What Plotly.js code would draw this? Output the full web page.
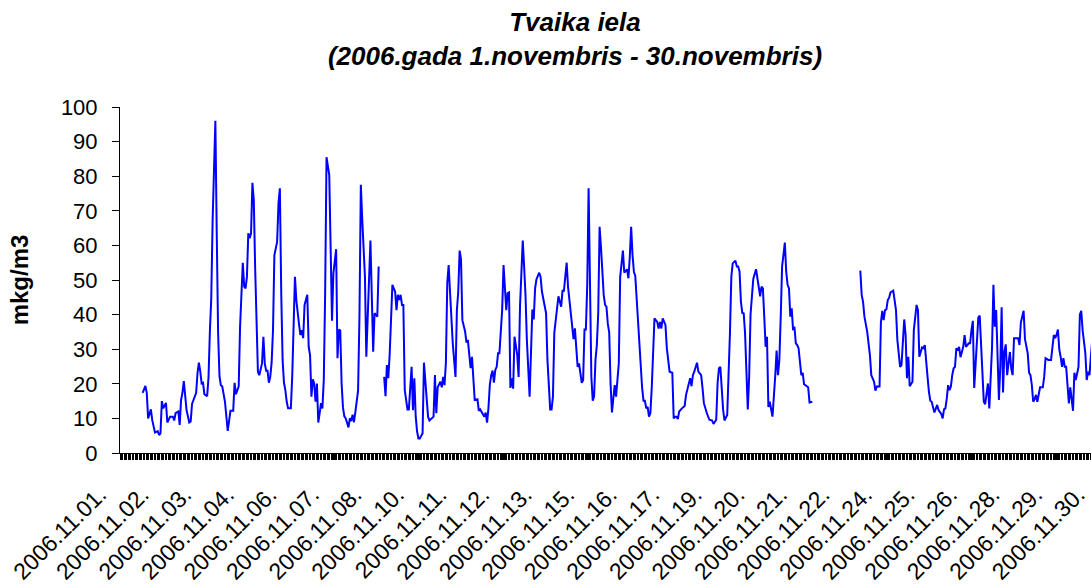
<!DOCTYPE html>
<html>
<head>
<meta charset="utf-8">
<script src="https://cdn.plot.ly/plotly-3.0.1.min.js"></script>
<style>
html,body{margin:0;padding:0;background:#fff;overflow:hidden;}
#chart{width:1108px;height:585px;}
</style>
</head>
<body>
<div id="chart"></div>
<script>
// Hour index (0 = 2006.11.01 00:00) of each drawn vertex, and concentration (mkg/m3); null = missing data
const hours = [
16,18,19,20,22,23,25,27,28,29,30,31,33,34,36,38,39,40,42,43,44,45,46,48,50,51,52,54,55,56,57,58,59,60,61,63,64,65,66,67,69,70,71,72,73,74,75,76,78,80,82,83,84,86,87,89,90,91,92,93,94,95,96,97,98,99,100,101,103,104,105,106,107,108,109,110,111,112,113,114,115,116,117,118,119,120,121,122,124,125,127,128,130,131,132,133,134,136,137,138,139,140,141,142,143,144,145,146,147,148,149,150,152,153,154,155,157,158,159,160,161,162,163,164,166,167,168,169,170,171,173,174,175,176,177,178,179,181,182,184,185,187,188,
190,
192,193,194,195,196,197,198,200,201,202,203,204,205,206,207,209,210,212,213,214,215,216,217,218,220,221,223,224,225,227,228,229,230,231,233,234,235,236,237,238,239,240,241,242,244,245,246,247,248,249,251,252,253,254,255,256,257,258,260,261,262,264,265,266,267,268,269,270,271,272,273,274,275,276,277,278,279,281,282,283,284,285,286,287,289,290,291,293,294,295,296,297,298,300,301,302,303,305,306,307,308,310,311,313,314,315,316,318,319,321,322,323,324,325,326,328,330,331,332,333,334,335,336,337,338,339,340,341,342,343,344,345,346,347,348,349,350,351,352,353,354,355,356,357,358,360,361,363,364,366,367,369,370,371,372,373,374,375,376,378,379,380,381,382,383,384,385,386,387,388,389,391,392,393,394,395,397,398,399,400,402,403,404,405,406,407,409,411,412,414,415,416,417,418,420,421,423,424,425,427,429,431,432,434,435,436,437,439,440,442,443,444,445,446,448,449,450,451,452,453,454,455,457,458,459,460,461,463,464,465,466,467,468,469,470,471,472,473,475,477,478,479,480,481,482,484,485,486,487,488,489,490,491,492,493,494,496,497,498,500,501,502,504,
521,
539,540,541,542,544,545,546,547,548,549,550,551,553,554,555,556,557,558,559,560,561,563,565,566,568,569,571,572,573,574,575,577,578,580,581,582,584,585,586,587,588,589,590,591,593,595,596,598,599,600,601,602,603,604,605,606,607,608,609,610,611,612,614,615,616,618,619,620,621,622,624,625,626,628,629,630,632,633,635,636,637,638,640,641,642,643,644,645,646,648,649,650,651,654,655,656,658,659,660,661,662,663,664,665,666,667,668,670,672,673,674,676,678,679,680,681,682,683,684,685,686,687,688,689,690,691,692,694,695,696,698,699,700,701,703,704,705,706,707,708
];
const values = [
17.4,19.4,17.4,10.0,12.6,9.5,5.9,6.3,5.2,5.7,15.0,12.9,14.5,8.8,10.5,10.5,9.4,11.5,12.0,8.1,15.3,17.4,20.8,12.4,8.8,9.1,14.2,16.8,17.4,23.2,26.1,23.5,20.1,20.3,17.0,16.4,21.8,35.1,44.7,67.3,96.0,63.5,34.6,22.1,19.6,19.3,16.4,14.8,6.4,12.2,12.2,20.3,17.0,19.3,36.5,55.0,48.1,47.6,50.9,63.5,62.1,63.5,78.1,73.1,53.4,36.5,23.5,22.5,25.9,33.6,25.9,23.8,23.8,20.3,22.0,26.1,35.5,57.2,58.7,61.0,72.2,76.5,46.2,26.9,20.3,18.2,14.8,12.9,12.9,22.0,50.9,44.2,37.0,34.1,35.5,33.2,42.8,45.7,30.7,28.3,16.3,21.3,20.1,14.8,20.1,8.8,11.5,14.4,12.9,21.1,46.2,85.5,80.3,57.7,38.2,51.9,58.9,27.4,35.7,35.4,20.1,13.1,10.6,10.0,7.4,10.1,9.2,11.1,8.9,11.8,18.0,39.4,77.5,67.8,58.7,50.9,27.8,48.1,61.4,29.3,40.4,39.4,53.9,
null,
22.0,16.4,25.4,21.6,28.3,41.3,48.6,46.6,41.3,45.7,44.2,45.7,42.8,42.8,18.2,12.6,12.6,24.9,12.4,21.6,10.5,6.2,4.2,4.2,5.7,26.1,13.9,10.5,9.4,10.0,10.5,22.5,11.5,19.0,20.6,19.0,22.0,19.6,26.1,49.2,54.3,46.6,37.5,31.7,22.0,41.3,46.6,58.5,56.0,38.4,35.1,31.9,32.7,27.4,24.5,27.8,22.0,15.3,15.5,12.2,12.6,11.0,10.5,11.7,8.8,12.9,19.6,22.5,23.8,20.3,24.0,24.9,28.8,28.8,34.1,41.3,54.3,41.3,46.2,46.4,18.8,21.6,18.6,33.6,28.3,22.0,42.3,61.4,53.9,45.7,32.7,24.9,16.3,41.5,38.6,47.6,50.2,52.1,50.9,46.6,44.2,40.4,26.9,12.6,12.6,16.3,34.7,42.6,45.3,42.3,46.9,46.9,51.4,55.0,48.1,39.4,32.9,36.0,28.8,24.9,25.9,23.0,20.3,21.1,35.7,35.7,48.6,76.5,46.2,22.0,15.1,16.4,26.9,31.2,40.4,65.4,59.6,51.4,45.7,42.8,42.3,37.3,34.9,20.1,11.7,19.6,16.3,25.9,50.9,58.5,52.1,53.1,50.5,56.6,65.4,57.2,52.4,51.2,44.2,30.7,24.3,18.8,15.1,15.1,12.9,13.3,10.5,11.5,18.8,28.8,38.9,37.9,36.0,37.9,36.0,38.9,37.0,30.3,26.9,23.5,23.2,10.0,10.5,10.5,9.8,12.0,12.9,13.6,16.8,20.1,21.6,19.3,22.5,23.5,26.1,23.5,22.5,18.8,14.4,11.7,9.6,9.4,8.4,9.6,20.3,24.5,24.9,12.6,9.4,11.0,21.6,34.7,50.9,54.8,55.6,53.9,53.9,52.4,43.7,40.5,40.4,34.7,12.6,22.0,40.0,45.3,50.3,53.1,50.5,49.1,45.3,48.1,47.6,39.4,30.7,33.6,13.3,14.8,10.5,22.3,29.6,22.5,26.9,39.4,53.9,60.8,52.4,48.6,47.6,39.4,41.8,35.5,36.5,31.7,31.2,30.3,22.5,23.2,19.9,19.3,19.0,14.6,14.8,
null,
52.7,45.7,43.7,39.4,35.1,31.7,28.3,22.5,21.6,20.6,18.0,19.2,19.2,37.7,41.1,38.4,41.3,41.5,44.2,44.9,46.4,46.9,41.3,32.7,24.9,25.4,38.6,34.1,21.6,27.8,19.3,20.6,35.5,42.8,41.3,27.8,30.5,30.3,31.2,24.9,22.0,17.7,15.1,14.8,11.7,13.9,12.4,11.3,10.0,12.6,12.9,15.7,19.6,18.2,19.2,22.5,24.5,24.9,30.3,29.6,30.7,27.7,30.7,34.1,30.7,31.7,31.7,35.5,38.2,18.8,32.7,39.2,39.7,24.9,14.8,14.1,20.1,12.9,30.7,48.6,36.5,41.3,15.3,24.9,42.1,17.5,29.3,31.4,22.5,29.2,24.3,22.5,33.2,33.2,31.2,37.7,41.1,32.9,30.7,28.8,23.2,22.5,19.6,14.8,15.5,16.8,14.8,19.0,19.0,22.0,27.4,26.9,26.9,31.2,34.1,33.2,34.1,35.7,29.9,27.8,24.9,27.4,24.9,24.9,18.2,14.3,19.0,12.2,23.2,21.1,24.9,40.0,41.1,35.5,28.8,21.1,23.5,22.5,27.8,32.7,28.8
];
// Category axis labels (Excel shows every 31st hourly category)
const dateLabels = ['2006.11.01.','2006.11.02.','2006.11.03.','2006.11.04.','2006.11.06.','2006.11.07.','2006.11.08.','2006.11.10.','2006.11.11.','2006.11.12.','2006.11.13.','2006.11.15.','2006.11.16.','2006.11.17.','2006.11.19.','2006.11.20.','2006.11.21.','2006.11.22.','2006.11.24.','2006.11.25.','2006.11.26.','2006.11.28.','2006.11.29.','2006.11.30.'];
const labelStep = 31;
const nCategories = 720;

if (hours.length !== values.length) console.error('length mismatch', hours.length, values.length);

const FONT = 'Arial, "Liberation Sans", sans-serif';
const tickvals = dateLabels.map((_, i) => i * labelStep);
const W = 1108;

const trace = {
  x: hours, y: values, type: 'scatter', mode: 'lines',
  line: {color: '#0000FF', width: 2},
  connectgaps: false, hoverinfo: 'x+y'
};

const layout = {
  width: W, height: 585,
  margin: {l: 120, r: 0, t: 107, b: 132},
  paper_bgcolor: '#fff', plot_bgcolor: '#fff',
  showlegend: false,
  font: {family: FONT, color: '#000', size: 22},
  title: {
    text: '<b><i>Tvaika iela<br>(2006.gada 1.novembris - 30.novembris)</i></b>',
    font: {family: FONT, size: 26, color: '#000'},
    x: 575/W, xref: 'container', xanchor: 'center',
    y: 1 - 31/585, yref: 'container', yanchor: 'top'
  },
  xaxis: {
    range: [-0.5, nCategories - 0.5],
    tickmode: 'array', tickvals: tickvals, ticktext: dateLabels,
    tickangle: -45, tickfont: {family: FONT, size: 23, color: '#000'},
    ticklabelstandoff: 12, ticklabelshift: -21,
    ticks: 'outside', ticklen: 6, tickcolor: '#000', tickwidth: 1,
    minor: {ticks: 'outside', ticklen: 6, tickcolor: '#000', tickwidth: 1, tickmode: 'linear', tick0: -0.5, dtick: 1, showgrid: false},
    showline: true, linecolor: '#000', linewidth: 1,
    showgrid: false, zeroline: false, fixedrange: true
  },
  yaxis: {
    range: [0, 100], tickmode: 'linear', tick0: 0, dtick: 10,
    tickfont: {family: FONT, size: 22, color: '#000'},
    ticks: 'outside', ticklen: 7, tickcolor: '#000', tickwidth: 1,
    ticklabelstandoff: 10,
    showline: true, linecolor: '#000', linewidth: 1,
    showgrid: false, zeroline: false, fixedrange: true,
    title: {text: '<b>mkg/m3</b>', font: {family: FONT, size: 24, color: '#000'}, standoff: 25}
  }
};

Plotly.newPlot('chart', [trace], layout, {displayModeBar: false, staticPlot: true});
</script>
</body>
</html>
